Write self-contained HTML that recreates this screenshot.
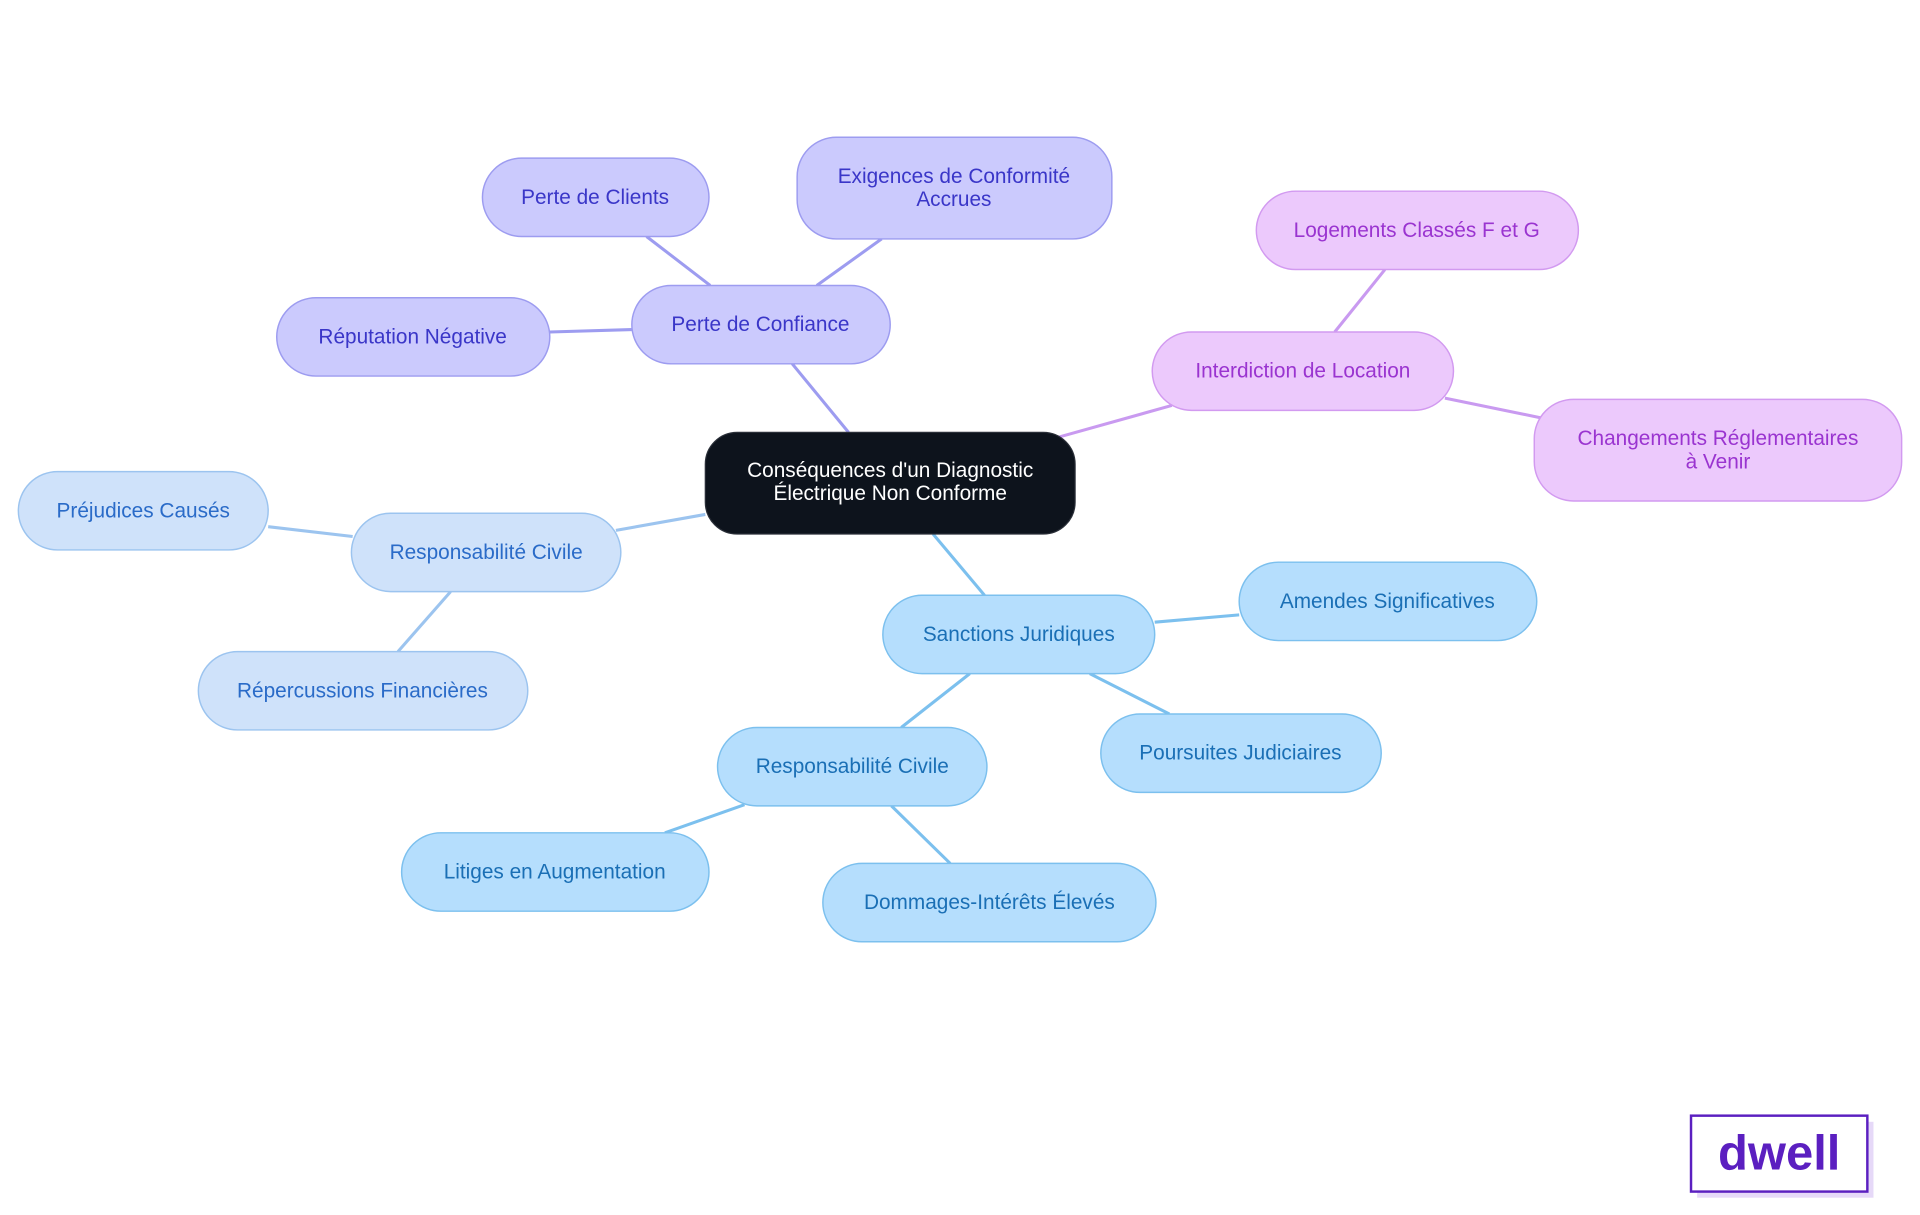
<!DOCTYPE html>
<html><head><meta charset="utf-8"><style>
html,body{margin:0;padding:0;background:#fff;}
svg{display:block;}
text{font-family:"Liberation Sans",sans-serif;font-size:17px;text-anchor:middle;dominant-baseline:central;}
</style></head><body>
<svg width="1920" height="1215" viewBox="0 0 1568 992" xmlns="http://www.w3.org/2000/svg">
<g stroke-width="2.5" fill="none">
<g stroke="#9d9cf0">
<line x1="693" y1="353" x2="647" y2="297"/>
<line x1="580" y1="233" x2="528" y2="193"/>
<line x1="667" y1="233" x2="720" y2="195"/>
<line x1="516" y1="269" x2="449" y2="271"/>
</g>
<g stroke="#c99af0">
<line x1="864" y1="357" x2="957" y2="331"/>
<line x1="1090" y1="271" x2="1131" y2="220"/>
<line x1="1180" y1="325" x2="1258" y2="341"/>
</g>
<g stroke="#9cc4ef">
<line x1="576" y1="420" x2="503" y2="433"/>
<line x1="288" y1="438" x2="219" y2="430"/>
<line x1="368" y1="483" x2="325" y2="532"/>
</g>
<g stroke="#7cc0ee">
<line x1="762" y1="436" x2="804" y2="486"/>
<line x1="943" y1="508" x2="1012" y2="502"/>
<line x1="890" y1="550" x2="955" y2="583"/>
<line x1="792" y1="550" x2="736" y2="594"/>
<line x1="608" y1="657" x2="543" y2="680"/>
<line x1="728" y1="658" x2="776" y2="705"/>
</g>
</g>
<rect x="576" y="353" width="302" height="83" rx="26" fill="#0d131c" stroke="#2a2f38"/>
<text x="727" y="384" fill="#fff">Conséquences d'un Diagnostic</text>
<text x="727" y="403" fill="#fff">Électrique Non Conforme</text>

<g fill="#cbcafd" stroke="#9d9cf0" stroke-width="1.2">
<rect x="516" y="233" width="211" height="64" rx="32"/>
<rect x="394" y="129" width="185" height="64" rx="32"/>
<rect x="651" y="112" width="257" height="83" rx="32"/>
<rect x="226" y="243" width="223" height="64" rx="32"/>
</g>
<g fill="#3a36c8">
<text x="621" y="265">Perte de Confiance</text>
<text x="486" y="161">Perte de Clients</text>
<text x="779" y="144">Exigences de Conformité</text>
<text x="779" y="163">Accrues</text>
<text x="337" y="275">Réputation Négative</text>
</g>

<g fill="#ecc9fc" stroke="#d29af0" stroke-width="1.2">
<rect x="941" y="271" width="246" height="64" rx="32"/>
<rect x="1026" y="156" width="263" height="64" rx="32"/>
<rect x="1253" y="326" width="300" height="83" rx="32"/>
</g>
<g fill="#9a34d0">
<text x="1064" y="303">Interdiction de Location</text>
<text x="1157" y="188">Logements Classés F et G</text>
<text x="1403" y="358">Changements Réglementaires</text>
<text x="1403" y="377">à Venir</text>
</g>

<g fill="#cfe2fa" stroke="#9cc4ef" stroke-width="1.2">
<rect x="287" y="419" width="220" height="64" rx="32"/>
<rect x="15" y="385" width="204" height="64" rx="32"/>
<rect x="162" y="532" width="269" height="64" rx="32"/>
</g>
<g fill="#2a6bc8">
<text x="397" y="451">Responsabilité Civile</text>
<text x="117" y="417">Préjudices Causés</text>
<text x="296" y="564">Répercussions Financières</text>
</g>

<g fill="#b5defd" stroke="#7cc0ee" stroke-width="1.2">
<rect x="721" y="486" width="222" height="64" rx="32"/>
<rect x="1012" y="459" width="243" height="64" rx="32"/>
<rect x="899" y="583" width="229" height="64" rx="32"/>
<rect x="586" y="594" width="220" height="64" rx="32"/>
<rect x="328" y="680" width="251" height="64" rx="32"/>
<rect x="672" y="705" width="272" height="64" rx="32"/>
</g>
<g fill="#1a6fb5">
<text x="832" y="518">Sanctions Juridiques</text>
<text x="1133" y="491">Amendes Significatives</text>
<text x="1013" y="615">Poursuites Judiciaires</text>
<text x="696" y="626">Responsabilité Civile</text>
<text x="453" y="712">Litiges en Augmentation</text>
<text x="808" y="737">Dommages-Intérêts Élevés</text>
</g>

<rect x="1386" y="916" width="144" height="62" fill="#e6d9f8"/>
<rect x="1381" y="911" width="144" height="62" fill="#fff" stroke="#5b1fc0" stroke-width="2"/>
<text x="1453" y="942" fill="#5b1fc0" style="font-size:40px;font-weight:bold">dwell</text>
</svg>
</body></html>
